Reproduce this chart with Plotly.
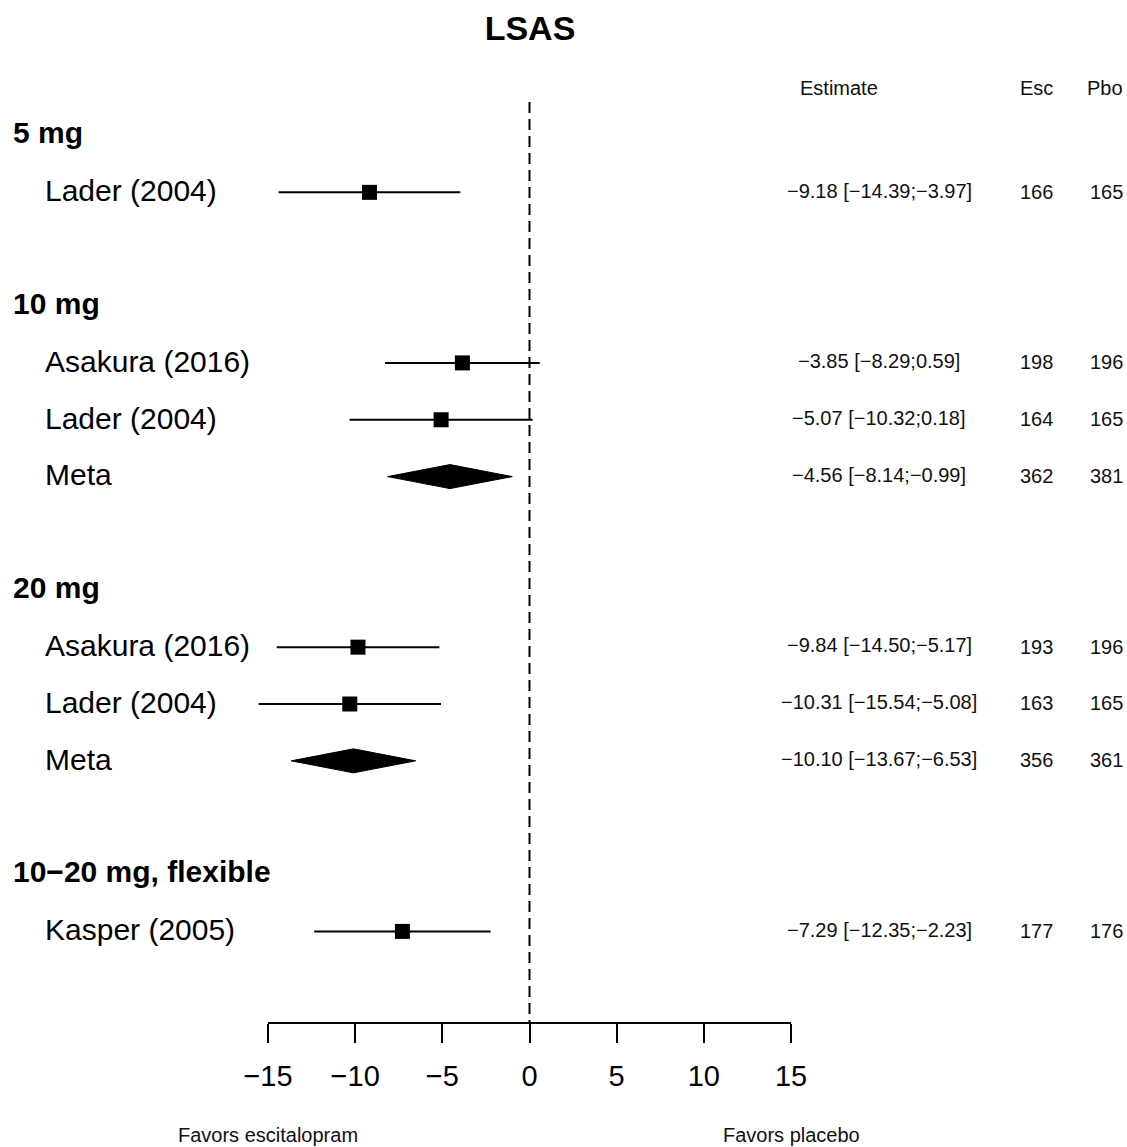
import plotly.graph_objects as go

# ---------------- data ----------------
group_names = ["5 mg", "10 mg", "20 mg", "10\u221220 mg, flexible"]
study_group = [0, 1, 1, 1, 2, 2, 2, 3]
study_labels = ["Lader (2004)", "Asakura (2016)", "Lader (2004)", "Meta",
                "Asakura (2016)", "Lader (2004)", "Meta", "Kasper (2005)"]
is_meta = [False, False, False, True, False, False, True, False]
estimates = [-9.18, -3.85, -5.07, -4.56, -9.84, -10.31, -10.10, -7.29]
ci_lower = [-14.39, -8.29, -10.32, -8.14, -14.50, -15.54, -13.67, -12.35]
ci_upper = [-3.97, 0.59, 0.18, -0.99, -5.17, -5.08, -6.53, -2.23]
n_esc = [166, 198, 164, 362, 193, 163, 356, 177]
n_pbo = [165, 196, 165, 381, 196, 165, 361, 176]
tick_values = [-15, -10, -5, 0, 5, 10, 15]

# ---------------- layout constants ----------------
W, H = 1127, 1147
FONT = "Liberation Sans, Arial, sans-serif"
PX0, PXS = 529.5, 17.433          # pixel of x=0, pixels per unit
ROW0, ROWS = 135.5, 56.85         # pixel of row 0, pixels per row
AXIS_PX = 1023
xr = [-PX0 / PXS, (W - PX0) / PXS]
yr = [(AXIS_PX - ROW0) / ROWS, -ROW0 / ROWS]

def row_of_px(p):
    return (p - ROW0) / ROWS

def paper_y(p):
    return (AXIS_PX - p) / AXIS_PX

def paper_x(p):
    return p / W

# build row indices
group_rows = []
study_rows = []
r = 0
for g in range(len(group_names)):
    group_rows.append(r)
    r += 1
    for i, sg in enumerate(study_group):
        if sg == g:
            study_rows.append((i, r))
            r += 1
    r += 1
row_of_study = {i: rr for i, rr in study_rows}

fig = go.Figure()

# dashed zero line
fig.add_trace(go.Scatter(x=[0, 0], y=[row_of_px(102), yr[0]], mode="lines",
                         line=dict(color="black", width=2, dash="11px,6px"),
                         hoverinfo="skip", showlegend=False))

diamond_h = 12 / ROWS
for i in range(len(study_labels)):
    rr = row_of_study[i]
    if is_meta[i]:
        fig.add_trace(go.Scatter(
            x=[ci_lower[i], estimates[i], ci_upper[i], estimates[i], ci_lower[i]],
            y=[rr, rr - diamond_h, rr, rr + diamond_h, rr],
            mode="lines", fill="toself", fillcolor="black",
            line=dict(color="black", width=1), hoverinfo="skip", showlegend=False))
    else:
        fig.add_trace(go.Scatter(x=[ci_lower[i], ci_upper[i]], y=[rr, rr], mode="lines",
                                 line=dict(color="black", width=2),
                                 hoverinfo="skip", showlegend=False))
        fig.add_trace(go.Scatter(x=[estimates[i]], y=[rr], mode="markers",
                                 marker=dict(symbol="square", size=15, color="black",
                                             line=dict(width=0)),
                                 hoverinfo="skip", showlegend=False))

ann = []
def add_text(txt, xpx, row, size, anchor="left", bold=False, color="black"):
    ann.append(dict(text=("<b>%s</b>" % txt) if bold else txt, x=paper_x(xpx), xref="paper",
                    y=row, yref="y", xanchor=anchor, yanchor="middle", showarrow=False,
                    font=dict(family=FONT, size=size, color=color)))

for g, rr in enumerate(group_rows):
    add_text(group_names[g], 11, rr - 0.045, 30, bold=True)

def fmt(v):
    return ("%.2f" % v).replace("-", "\u2212")

for i, rr in study_rows:
    add_text(study_labels[i], 43, rr - 0.03, 30)
    add_text("%s [%s;%s]" % (fmt(estimates[i]), fmt(ci_lower[i]), fmt(ci_upper[i])),
             879, rr - 0.03, 20, anchor="center", color="#111")
    add_text(str(n_esc[i]), 1036, rr - 0.01, 20, anchor="center", color="#111")
    add_text(str(n_pbo[i]), 1106, rr - 0.01, 20, anchor="center", color="#111")

hdr = row_of_px(88)
add_text("Estimate", 839, hdr, 20, anchor="center", color="#111")
add_text("Esc", 1036, hdr, 20, anchor="center", color="#111")
add_text("Pbo", 1105, hdr, 20, anchor="center", color="#111")

for txt, xp in [("Favors escitalopram", 268), ("Favors placebo", 791)]:
    ann.append(dict(text=txt, x=paper_x(xp), xref="paper", y=paper_y(1135), yref="paper",
                    xanchor="center", yanchor="middle", showarrow=False,
                    font=dict(family=FONT, size=20, color="#111")))

fig.update_layout(
    width=W, height=H,
    margin=dict(l=0, r=0, t=0, b=H - AXIS_PX, pad=0),
    paper_bgcolor="white", plot_bgcolor="white",
    title=dict(text="<b>LSAS</b>", x=paper_x(530), xanchor="center", y=1 - 28 / H,
               yanchor="middle", yref="container",
               font=dict(family=FONT, size=34, color="black")),
    xaxis=dict(range=xr, showgrid=False, zeroline=False, showline=False,
               tickvals=tick_values,
               ticktext=[str(v).replace("-", "\u2212") for v in tick_values],
               ticks="outside", ticklen=19, tickwidth=2, tickcolor="black",
               tickfont=dict(family=FONT, size=29, color="black"),
               ticklabelstandoff=8, fixedrange=True),
    yaxis=dict(range=yr, showgrid=False, zeroline=False, showline=False,
               showticklabels=False, ticks="", fixedrange=True),
    annotations=ann,
    shapes=[dict(type="line", xref="x", yref="paper", x0=tick_values[0], x1=tick_values[-1],
                 y0=0, y1=0, line=dict(color="black", width=2))],
    showlegend=False,
)

fig.write_html("out.html", config={"displayModeBar": False},
               post_script="document.body.style.margin='0';document.body.style.overflow='hidden';")
